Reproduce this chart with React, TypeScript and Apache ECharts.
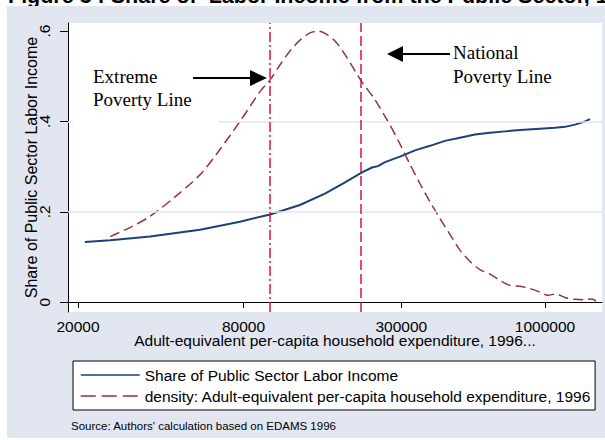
import React, { useEffect, useRef } from "react";
import * as echarts from "echarts";

// ---- data ----
const X_TICKS = [20000, 80000, 300000, 1000000];
const X_TICK_LABELS = ["20000", "80000", "300000", "1000000"];
const Y_TICKS = [0, 0.2, 0.4, 0.6];
const Y_TICK_LABELS = ["0", ".2", ".4", ".6"];
const X_RANGE = [18400, 1612000];
const Y_RANGE = [-0.022, 0.618];

const SHARE_X = [21200, 26200, 36600, 55600, 77700, 100000, 128400, 158300, 187300, 216000, 234700, 246800, 261700, 296800, 336500, 381600, 432500, 490600, 556300, 630600, 715000, 810700, 958700, 1087000, 1182000, 1285000, 1398000, 1457000];
const SHARE_Y = [0.133, 0.137, 0.145, 0.160, 0.178, 0.194, 0.215, 0.240, 0.265, 0.287, 0.298, 0.301, 0.310, 0.322, 0.336, 0.346, 0.357, 0.364, 0.371, 0.375, 0.378, 0.381, 0.384, 0.386, 0.388, 0.393, 0.400, 0.405];

const DENS_X = [26200, 30900, 36600, 45100, 55600, 65700, 77700, 91900, 100000, 108600, 118100, 128400, 139600, 149300, 158300, 172200, 187300, 203600, 216000, 240700, 272900, 296800, 322800, 351000, 381600, 414900, 451000, 490600, 533400, 579900, 630600, 685700, 745500, 810700, 881500, 958700, 1025000, 1096000, 1182000, 1285000, 1398000, 1482000, 1532000];
const DENS_Y = [0.145, 0.165, 0.190, 0.233, 0.282, 0.338, 0.400, 0.466, 0.492, 0.525, 0.556, 0.580, 0.596, 0.600, 0.595, 0.578, 0.548, 0.512, 0.487, 0.448, 0.392, 0.350, 0.305, 0.262, 0.222, 0.185, 0.150, 0.115, 0.090, 0.072, 0.062, 0.048, 0.037, 0.035, 0.030, 0.022, 0.015, 0.018, 0.010, 0.006, 0.005, 0.007, 0.002];

const POVERTY_LINES = [100000, 216000];
const GRID_LINES = [0.2, 0.4];

const SERIES_NAMES = [
  "Share of Public Sector Labor Income",
  "density: Adult-equivalent per-capita household expenditure, 1996",
];

const SANS = "'Liberation Sans', Arial, Helvetica, sans-serif";
const SERIF = "'Liberation Serif', 'Times New Roman', serif";
const BG = "#E2E6F0";
const NAVY = "#1d4176";
const MAROON = "#90353B";
const CRIMSON = "#dc1240";

const lg = (v: number) => Math.log10(v);

export default function App() {
  const ref = useRef<HTMLDivElement>(null);

  useEffect(() => {
    if (!ref.current) return;
    const chart = echarts.init(ref.current, null, { renderer: "svg" });

    const xTickLog = X_TICKS.map(lg);
    const xFmt = (v: number) => {
      const i = xTickLog.findIndex((t) => Math.abs(t - v) < 1e-6);
      return i >= 0 ? X_TICK_LABELS[i] : "";
    };
    const yFmt = (v: number) => {
      const i = Y_TICKS.findIndex((t) => Math.abs(t - v) < 1e-9);
      return i >= 0 ? Y_TICK_LABELS[i] : "";
    };

    const option: any = {
      animation: false,
      grid: {
        left: 68,
        right: 3,
        top: 23,
        bottom: 128,
        show: true,
        backgroundColor: "#ffffff",
        borderWidth: 0,
      },
      legend: {
        orient: "vertical",
        left: 73,
        top: 361,
        backgroundColor: "#ffffff",
        borderColor: "#000000",
        borderWidth: 1,
        borderRadius: 0,
        padding: [6, 4, 6, 7],
        itemWidth: 59,
        itemHeight: 14,
        itemGap: 5,
        selectedMode: false,
        textStyle: { fontSize: 15.5, color: "#000", fontFamily: SANS },
        data: [
          { name: SERIES_NAMES[0], itemStyle: { opacity: 0 }, lineStyle: { color: NAVY, width: 1.5, type: "solid" } },
          { name: SERIES_NAMES[1], itemStyle: { opacity: 0 }, lineStyle: { color: MAROON, width: 1.5, type: [15, 6] } },
        ],
      },
      xAxis: {
        type: "value",
        min: lg(X_RANGE[0]),
        max: lg(X_RANGE[1]),
        name: "Adult-equivalent per-capita household expenditure, 1996...",
        nameLocation: "middle",
        nameGap: 22,
        nameMoveOverlap: false,
        nameTextStyle: { fontSize: 15.5, lineHeight: 12, color: "#000", fontFamily: SANS },
        axisLine: { show: true, lineStyle: { color: "#000", width: 1 } },
        axisTick: { show: true, length: 6, customValues: xTickLog, lineStyle: { color: "#000", width: 1 } },
        axisLabel: { customValues: xTickLog, formatter: xFmt, fontSize: 15.5, lineHeight: 12, color: "#000", fontFamily: SANS, margin: 8 },
        splitLine: { show: false },
      },
      yAxis: {
        type: "value",
        min: Y_RANGE[0],
        max: Y_RANGE[1],
        name: "Share of Public Sector Labor Income",
        nameLocation: "middle",
        nameRotate: 90,
        nameGap: 29,
        nameMoveOverlap: false,
        nameTextStyle: { fontSize: 16, color: "#000", fontFamily: SANS },
        axisLine: { show: true, lineStyle: { color: "#000", width: 1 } },
        axisTick: { show: true, length: 8, customValues: Y_TICKS, lineStyle: { color: "#000", width: 1 } },
        axisLabel: { customValues: Y_TICKS, formatter: yFmt, rotate: 90, fontSize: 15.5, color: "#000", fontFamily: SANS, margin: 16 },
        splitLine: { show: false },
      },
      series: [
        {
          name: "gridlines",
          type: "line",
          z: 1,
          symbol: "none",
          silent: true,
          data: [[lg(X_RANGE[0]), Y_RANGE[0]]],
          lineStyle: { opacity: 0 },
          markLine: {
            silent: true,
            symbol: "none",
            label: { show: false },
            lineStyle: { color: BG, width: 1.5, type: "solid" },
            data: GRID_LINES.map((v) => ({ yAxis: v })),
          },
        },
        {
          name: SERIES_NAMES[0],
          type: "line",
          z: 3,
          symbol: "none",
          data: SHARE_X.map((x, i) => [lg(x), SHARE_Y[i]]),
          lineStyle: { color: NAVY, width: 2 },
          itemStyle: { color: NAVY },
        },
        {
          name: SERIES_NAMES[1],
          type: "line",
          z: 3,
          symbol: "none",
          smooth: 0.3,
          data: DENS_X.map((x, i) => [lg(x), DENS_Y[i]]),
          lineStyle: { color: MAROON, width: 1.5, type: [10, 5] },
          itemStyle: { color: MAROON },
        },
        {
          name: "povertylines",
          type: "line",
          z: 4,
          symbol: "none",
          silent: true,
          data: [[lg(X_RANGE[0]), Y_RANGE[0]]],
          lineStyle: { opacity: 0 },
          markLine: {
            silent: true,
            symbol: "none",
            label: { show: false },
            data: [
              { xAxis: lg(POVERTY_LINES[0]), lineStyle: { color: CRIMSON, width: 1.5, type: [10, 3, 2, 3] } },
              { xAxis: lg(POVERTY_LINES[1]), lineStyle: { color: CRIMSON, width: 1.5, type: [10, 4] } },
            ],
          },
        },
      ],
      graphic: [
        { type: "text", z: -200, x: 8, y: -4.3, style: { text: "Figure 3 : Share of  Labor Income from the Public Sector, 1996", font: `bold 21.5px ${SANS}`, fill: "#000", verticalAlign: "middle" } },
        { type: "rect", z: -100, shape: { x: 7, y: 6, width: 598, height: 432 }, style: { fill: BG } },
        { type: "rect", z: 50, shape: { x: 73, y: 62, width: 145, height: 63 }, style: { fill: "#fff" } },
        { type: "text", z: 60, x: 93, y: 76, style: { text: "Extreme", font: `19px ${SERIF}`, fill: "#000", verticalAlign: "middle" } },
        { type: "text", z: 60, x: 93, y: 99, style: { text: "Poverty Line", font: `19px ${SERIF}`, fill: "#000", verticalAlign: "middle" } },
        { type: "line", z: 60, shape: { x1: 193, y1: 78, x2: 252, y2: 78 }, style: { stroke: "#000", lineWidth: 2 } },
        { type: "polygon", z: 60, shape: { points: [[250, 70], [267, 78], [250, 86]] }, style: { fill: "#000" } },
        { type: "text", z: 60, x: 453, y: 52, style: { text: "National", font: `19px ${SERIF}`, fill: "#000", verticalAlign: "middle" } },
        { type: "text", z: 60, x: 453, y: 76, style: { text: "Poverty Line", font: `19px ${SERIF}`, fill: "#000", verticalAlign: "middle" } },
        { type: "line", z: 60, shape: { x1: 401, y1: 54, x2: 450, y2: 54 }, style: { stroke: "#000", lineWidth: 2 } },
        { type: "polygon", z: 60, shape: { points: [[387, 54], [403, 46], [403, 62]] }, style: { fill: "#000" } },
        { type: "text", z: 60, x: 71, y: 426, style: { text: "Source: Authors' calculation based on EDAMS 1996", font: `11.5px ${SANS}`, fill: "#000", verticalAlign: "middle" } },
      ],
    };

    chart.setOption(option);
    return () => chart.dispose();
  }, []);

  return (
    <div
      ref={ref}
      style={{ position: "fixed", left: 0, top: 0, width: 605, height: 440, background: "#fff" }}
    />
  );
}
